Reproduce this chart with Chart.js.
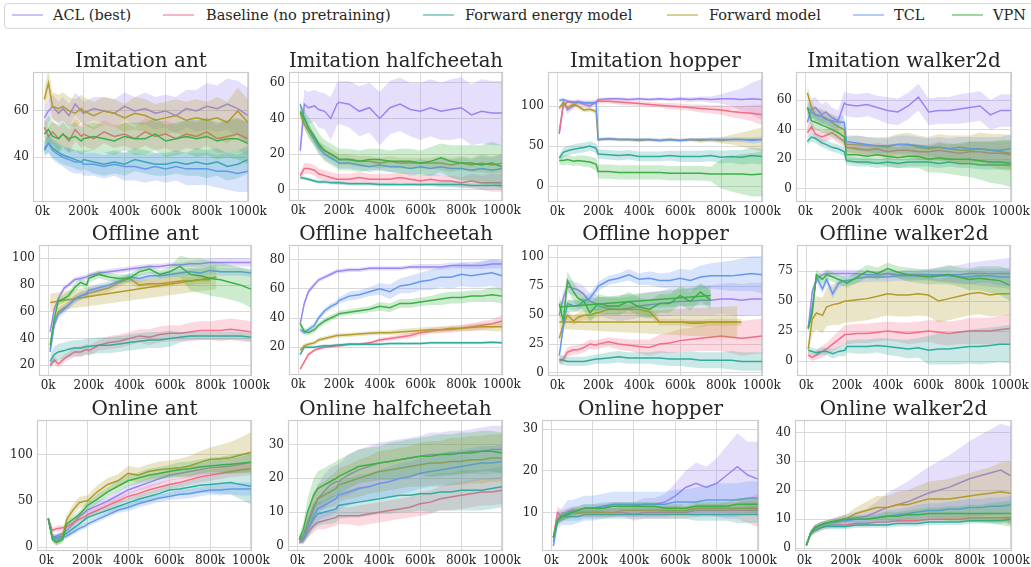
<!DOCTYPE html>
<html><head><meta charset="utf-8">
<script src="https://cdn.jsdelivr.net/npm/chart.js@4.4.1/dist/chart.umd.min.js"></script>
<style>
html,body{margin:0;padding:0;background:#fff;}
body{width:1031px;height:567px;position:relative;overflow:hidden;font-family:'DejaVu Serif',serif;}
#legendBox{position:absolute;left:4px;top:3px;width:1030px;height:26px;border:1px solid #d6d6d6;border-radius:4px;box-sizing:border-box;}
.sw{position:absolute;top:14px;height:2px;width:31px;opacity:.5}
.lt{position:absolute;top:6px;font-size:14.5px;color:#262626;line-height:18px;white-space:nowrap}
canvas{position:absolute;}
</style></head><body>
<div id="legendBox"></div>
<script>
// ---------------- DATA ----------------
const steps = [10,30,50,80,100,130,160,190,200,250,300,350,400,450,500,550,600,650,700,750,800,850,900,950,1000]; // k steps
const seriesNames = ['ACL (best)','Baseline (no pretraining)','Forward energy model','Forward model','TCL','VPN'];
const panelTitles = ['Imitation ant','Imitation halfcheetah','Imitation hopper','Imitation walker2d',
  'Offline ant','Offline halfcheetah','Offline hopper','Offline walker2d',
  'Online ant','Online halfcheetah','Online hopper','Online walker2d'];
const xTickValues = [0,200,400,600,800,1000];
const xTickLabels = ['0k','200k','400k','600k','800k','1000k'];

// Imitation ant
const imAntTicks = [40,60];
const imAntACL = [57,60,62,59,61,58,63,60,59,61,60,59,62,60,61,59,60,58,61,60,62,61,63,61,58];
const imAntACLsd = [4,5,5,5,5,5,5,5,5,5,6,6,6,6,7,7,7,8,8,9,10,10,11,12,12];
const imAntBase = [53,49,51,48,50,47,52,49,50,48,51,49,50,48,51,49,50,48,50,49,51,48,49,50,48];
const imAntBasesd = [4,4,5,5,5,5,5,5,5,5,5,5,5,5,6,6,6,6,6,6,6,6,7,7,7];
const imAntFE = [43,46,44,42,41,40,39,38,39,38,37,38,37,39,38,37,37,38,37,38,37,38,36,37,39];
const imAntFEsd = [3,4,4,4,4,4,4,4,4,5,5,5,5,5,5,5,5,5,5,6,6,6,6,6,6];
const imAntFM = [65,72,62,61,62,60,59,61,60,58,60,59,57,59,58,56,57,58,56,57,56,57,55,60,55];
const imAntFMsd = [5,6,6,6,6,6,6,6,6,6,6,6,6,7,7,7,7,7,8,8,8,9,9,10,10];
const imAntTCL = [44,46,43,41,40,39,38,38,37,37,36,37,36,36,35,36,35,36,35,35,35,34,34,33,34];
const imAntTCLsd = [3,4,4,4,4,5,5,5,5,5,5,5,6,6,6,6,6,6,7,7,7,7,8,8,9];
const imAntVPN = [50,52,49,48,50,48,49,47,48,49,48,47,49,48,48,50,47,48,49,48,49,47,48,48,46];
const imAntVPNsd = [5,6,6,6,6,6,6,6,6,6,6,6,6,7,7,7,7,7,7,8,8,8,8,9,9];

// Imitation halfcheetah
const imHcTicks = [0,20,40,60];
const imHcACL = [22,48,46,47,45,44,40,48,49,48,44,46,40,46,48,45,44,46,44,45,46,42,44,43,43];
const imHcACLsd = [6,8,9,9,10,10,12,12,12,13,14,14,15,15,15,15,16,16,16,17,17,17,18,18,18];
const imHcBase = [8,12,12,11,9,8,7,6,6,6,7,6,6,6,7,6,5,6,5,5,4,5,4,4,4];
const imHcBasesd = [2,3,3,3,3,3,3,3,3,3,3,3,3,3,3,3,3,3,3,3,3,4,4,5,5];
const imHcFE = [7,6.5,6,5,4.5,4.5,4,4,4,3.5,3.5,3.5,3,3,3,3,3,3,3,3,3,2.5,2.5,2.5,2.5];
const imHcFEsd = [1,1,1,1,1,1,1,1,1,1,1,1,1,1,1,1,1,1,1.5,1.5,1.5,1.5,2,2,2];
const imHcFM = [43,37,33,28,25,22,20,18,17,17,16,16,15,16,15,15,15,15,15,14,15,14,15,14,15];
const imHcFMsd = [3,3,3,3,3,3,3,3,3,3,3,3,3,3,3,3,3,3,4,4,4,4,5,5,5];
const imHcTCL = [48,40,35,28,24,20,18,16,15,15,14,13,14,13,13,12,13,12,13,12,12,11,12,11,12];
const imHcTCLsd = [2,3,3,3,3,3,3,3,3,3,3,3,3,3,3,4,4,4,5,5,6,6,7,7,8];
const imHcVPN = [44,40,35,30,26,22,20,18,17,17,16,17,17,16,16,16,15,16,18,16,15,15,14,15,13];
const imHcVPNsd = [4,5,6,6,6,6,6,6,6,6,6,6,6,6,7,7,7,8,8,9,10,10,11,12,12];

// Imitation hopper
const imHopTicks = [0,50,100];
const imHopACL = [65,105,95,100,105,102,100,105,108,109,109,108,109,108,109,108,109,108,109,108,109,109,108,109,108];
const imHopACLsd = [5,4,5,4,3,3,3,3,2,2,2,2,2,2,2,2,3,3,3,4,6,9,14,20,26];
const imHopBase = [68,100,105,104,105,104,104,104,106,106,105,104,103,102,101,100,99,98,97,96,95,93,92,91,89];
const imHopBasesd = [4,4,3,3,3,3,3,3,3,3,3,3,3,3,3,4,4,4,5,5,6,7,8,10,13];
const imHopFE = [35,42,44,46,47,48,50,47,40,39,38,39,37,37,37,38,37,37,37,38,36,37,36,38,37];
const imHopFEsd = [5,6,6,6,6,6,6,6,6,6,6,6,6,6,6,6,7,7,7,7,8,8,9,10,10];
const imHopFM = [97,105,98,102,100,95,96,93,58,59,58,58,57,58,57,58,57,58,57,58,57,58,58,58,58];
const imHopFMsd = [3,3,3,3,3,3,3,3,2,2,2,2,2,2,2,2,2,2,3,3,4,6,9,12,15];
const imHopTCL = [107,108,106,105,105,104,104,104,58,59,58,58,58,58,57,58,57,58,58,58,58,58,58,57,58];
const imHopTCLsd = [2,2,2,2,2,2,2,2,2,2,2,2,2,2,2,2,2,2,2,2,3,3,3,4,4];
const imHopVPN = [32,32,33,31,32,31,30,27,18,18,17,17,17,17,17,16,16,16,16,15,15,15,15,14,15];
const imHopVPNsd = [5,6,6,6,6,7,7,8,9,9,9,9,9,9,9,9,9,9,9,9,18,22,25,27,28];

// Imitation walker2d
const imWalkTicks = [0,20,40,60];
const imWalkACL = [45,54,55,50,52,48,46,58,57,56,57,55,53,52,56,62,52,53,53,54,55,56,50,53,53];
const imWalkACLsd = [6,7,7,7,7,7,7,8,8,8,8,8,9,9,9,9,9,9,9,10,10,10,10,11,11];
const imWalkBase = [38,42,37,35,36,38,35,32,28,27,26,27,25,26,26,25,25,26,25,24,25,25,24,24,23];
const imWalkBasesd = [3,4,4,4,4,4,4,4,4,4,4,4,5,5,5,5,5,6,6,6,7,7,8,8,9];
const imWalkFE = [32,35,34,31,30,28,27,25,19,18,18,17,18,17,18,18,18,17,18,17,17,16,16,16,16];
const imWalkFEsd = [3,3,3,3,3,3,3,3,3,3,3,3,3,3,3,3,3,3,3,3,3,3,3,3,3];
const imWalkFM = [65,55,50,49,48,45,42,40,30,30,29,29,28,30,30,28,27,28,27,26,26,27,26,25,24];
const imWalkFMsd = [5,5,5,5,5,5,5,5,5,6,6,6,7,7,8,8,8,9,9,10,10,11,11,12,12];
const imWalkTCL = [55,52,50,49,47,46,45,45,32,31,30,29,29,30,30,29,28,28,27,28,27,27,26,26,27];
const imWalkTCLsd = [4,4,4,4,4,4,4,4,4,5,5,5,5,6,6,6,6,7,7,7,8,8,9,9,10];
const imWalkVPN = [55,46,45,43,42,40,38,35,23,23,22,23,22,21,22,22,20,21,20,20,20,19,18,18,17];
const imWalkVPNsd = [5,5,5,5,5,5,5,5,5,6,6,6,7,7,8,8,9,10,10,11,12,13,14,15,16];

// Offline ant
const offAntTicks = [20,40,60,80,100];
const offAntACL = [45,62,70,78,80,84,85,86,87,89,90,91,92,93,94,94,95,95,96,96,97,97,97,97,97];
const offAntACLsd = [2,2,2,2,2,2,2,2,2,2,2,2,2,2,2,2,2,2,2,3,3,3,3,3,3];
const offAntBase = [20,24,21,25,27,30,30,32,31,35,37,38,40,42,41,43,44,44,45,46,46,46,47,46,45];
const offAntBasesd = [2,3,3,3,3,4,4,4,4,4,5,5,5,5,6,6,6,6,7,7,7,8,8,8,8];
const offAntFE = [23,28,30,31,32,33,33,34,34,35,35,36,37,38,39,39,40,41,42,42,42,42,42,42,41];
const offAntFEsd = [5,6,6,6,6,6,6,6,6,6,6,6,6,6,6,6,6,4,3,3,3,3,3,3,3];
const offAntFM = [32,52,60,63,65,70,72,73,74,76,78,82,85,80,81,81,82,83,83,84,84,null,null,null,null];
const offAntFMsd = [3,3,3,3,3,3,3,3,3,3,3,3,3,3,3,3,3,3,3,3,3,null,null,null,null];
const offAntFMlineX = [10,830];
const offAntFMline = [67,86];
const offAntFMlineSd = [6.5,9];
const offAntTCL = [30,50,58,62,65,69,72,74,76,78,80,83,86,85,87,87,88,89,90,89,91,90,90,90,89];
const offAntTCLsd = [2,3,3,3,3,3,3,3,3,3,3,3,3,3,3,3,3,3,3,3,3,3,3,3,3];
const offAntVPN = [35,55,68,70,72,78,82,80,85,88,86,85,85,90,92,88,90,94,88,87,85,84,82,80,77];
const offAntVPNsd = [2,3,3,3,3,3,3,3,3,3,3,3,3,3,3,3,4,8,12,13,13,13,13,13,14];

// Offline halfcheetah
const offHcTicks = [20,40,60,80];
const offHcACL = [36,50,58,63,66,68,70,72,72,73,73,74,74,74,74,75,75,75,75,76,76,76,76,77,77];
const offHcACLsd = [1.5,2,2,1.5,1.5,1.5,1.5,1.5,1.5,1.5,1.5,1.5,1.5,1.5,1.5,1.5,2,2,2,2,2,2.5,2.5,3,3];
const offHcBase = [5,10,15,18,19,20,20.5,21,21,22,22,23,25,26,27,28,30,31,32,32,33,34,35,36,38];
const offHcBasesd = [1,1,1,1,1,1,1,1,1,1,1,1,1.5,1.5,1.5,2,2,2,2,2,2,2.5,3,3,4];
const offHcFE = [15,20,20,20,20.5,21,21,21.5,21.5,22,22,22,22,22.5,22.5,22.5,22.5,23,23,23,23,23,23,23.5,23];
const offHcFEsd = [1,1,1,1,1,1,1,1,1,1,1,1,1,1,1,1,1,1,1,1,1,1,1,1,1];
const offHcFM = [18,21,22,23,25,26,27,28,28,28.5,29,29.5,30,30,30.5,31,31.5,32,32,33,33,33.5,34,34,34];
const offHcFMsd = [1.5,1.5,1.5,1.5,1.5,1.5,1.5,1.5,1.5,1.5,1.5,1.5,1.5,1.5,2,2,2,2,2,2,2,2.5,2.5,3,3];
const offHcTCL = [32,30,32,35,40,45,48,50,52,55,56,58,60,58,62,63,65,66,68,68,70,69,70,71,69];
const offHcTCLsd = [2,2,2,2,2,2,2,2,2,3,3,3,4,5,5,6,6,7,7,8,8,8,9,9,10];
const offHcVPN = [36,31,30,32,35,38,40,42,43,44,45,46,48,47,50,50,51,52,53,54,54,55,55,56,55];
const offHcVPNsd = [2,2,2,2,2,2,2,2,2,2,2,2,3,3,3,3,3,3,4,4,4,4,4,5,5];

// Offline hopper
const offHopTicks = [0,25,50,75,100];
const offHopACL = [50,65,75,73,72,68,62,60,58,56,55,56,58,59,60,61,62,62,63,63,64,64,63,64,64];
const offHopACLsd = [5,6,6,6,6,7,7,8,8,9,10,10,10,11,11,12,12,12,13,13,13,14,14,14,14];
const offHopBase = [10,12,18,20,20,22,25,24,25,27,25,24,23,22,25,26,28,29,30,31,32,31,30,31,32];
const offHopBasesd = [3,4,4,4,4,4,4,4,4,4,5,5,6,7,8,9,10,10,11,12,13,14,15,15,15];
const offHopFE = [12,11,10,10,10,10,11,12,12,13,14,13,13,13,13,12,12,12,11,11,11,11,10,10,10];
const offHopFEsd = [4,4,4,4,4,4,4,4,4,5,5,5,5,5,6,6,6,7,7,7,7,8,8,8,8];
const offHopFM = [30,42,50,45,48,50,50,52,52,55,55,55,55,53,44,44,44,43,43,44,44,44,44,null,null];
const offHopFMsd = [5,4,4,4,4,4,4,4,4,4,4,4,4,4,3,3,3,3,3,3,3,3,3,null,null];
const offHopFMlineX = [10,880];
const offHopFMline = [44,44];
const offHopFMlineSd = [6,14];
const offHopTCL = [15,40,60,58,58,62,65,72,75,80,82,85,81,82,80,80,82,80,83,84,84,84,85,86,85];
const offHopTCLsd = [3,4,4,4,4,4,4,4,4,4,4,5,5,6,6,7,8,9,10,11,12,13,14,15,16];
const offHopVPN = [60,45,80,70,65,62,52,58,60,58,58,62,57,55,60,60,67,62,70,63,null,null,null,null,null];
const offHopVPNsd = [8,8,8,8,8,8,8,8,8,8,8,8,8,8,8,8,8,8,8,8,null,null,null,null,null];
const offHopVPNlineX = [10,750];
const offHopVPNline = [57,67];
const offHopVPNlineSd = [5,8];

// Offline walker2d
const offWalkTicks = [0,25,50,75];
const offWalkACL = [27,58,68,72,73,73,73,73,73,73,72,72,73,72,72,72,72,72,72,72,73,73,73,73,73];
const offWalkACLsd = [3,3,3,3,3,3,3,3,3,3,3,3,3,3,4,4,5,6,7,8,9,10,11,12,13];
const offWalkBase = [5,3,5,8,10,14,18,22,22,23,23,24,25,24,23,24,25,24,23,24,25,25,25,26,27];
const offWalkBasesd = [3,3,4,5,5,6,7,8,8,8,8,8,8,8,9,9,9,10,10,10,11,11,11,12,12];
const offWalkFE = [9,8,7,8,8,6,8,9,12,12,12,13,12,11,10,11,9,10,10,11,12,12,13,14,14];
const offWalkFEsd = [3,3,3,3,3,4,4,5,5,6,6,6,7,7,8,8,12,13,13,14,14,15,15,15,16];
const offWalkFM = [10,35,40,38,45,47,48,50,50,51,52,54,56,55,55,56,55,50,52,54,56,57,55,56,56];
const offWalkFMsd = [5,12,14,15,16,17,18,18,18,18,18,18,18,18,18,18,18,18,18,18,18,18,18,18,18];
const offWalkTCL = [28,45,70,60,68,56,65,67,67,69,70,70,70,71,71,71,72,71,71,70,70,71,71,70,70];
const offWalkTCLsd = [4,4,4,4,4,4,4,4,4,4,4,4,4,4,4,4,4,5,5,5,6,6,6,7,8];
const offWalkVPN = [27,40,72,68,72,70,68,66,65,70,75,73,77,74,72,71,70,71,72,70,68,69,68,67,63];
const offWalkVPNsd = [3,4,4,4,4,4,4,4,4,5,5,5,5,5,6,6,6,7,8,8,9,10,11,12,13];

// Online ant
const onAntTicks = [0,50,100];
const onAntACL = [31,10,12,15,18,25,33,38,40,45,50,56,62,66,70,74,78,80,82,84,86,87,88,90,92];
const onAntACLsd = [2,3,3,3,4,4,4,4,4,5,5,5,5,5,6,6,6,6,7,7,7,8,8,8,9];
const onAntBase = [31,18,20,21,22,26,30,33,35,40,45,50,55,58,62,65,68,70,73,76,78,80,82,84,85];
const onAntBasesd = [2,3,3,3,3,3,3,4,4,4,4,4,4,5,5,5,5,5,5,6,6,6,6,7,7];
const onAntFE = [31,12,10,12,15,20,25,30,32,36,40,44,48,52,55,58,62,63,65,67,68,69,70,68,66];
const onAntFEsd = [2,3,3,3,3,4,4,4,4,4,4,5,5,5,5,5,6,6,7,8,9,11,13,16,20];
const onAntFM = [31,10,5,12,30,40,48,50,50,60,68,72,80,78,82,84,85,86,88,92,95,96,97,100,103];
const onAntFMsd = [2,4,4,5,5,6,6,6,6,7,7,7,8,8,8,9,9,10,11,12,13,15,17,19,22];
const onAntTCL = [31,10,8,10,12,16,20,23,25,30,35,40,43,47,50,53,55,57,58,60,62,62,63,63,63];
const onAntTCLsd = [2,3,3,3,3,3,3,3,3,3,3,3,4,4,4,4,4,5,5,5,5,6,6,7,7];
const onAntVPN = [31,8,5,8,25,30,35,42,45,52,60,66,72,75,78,80,82,84,85,87,88,89,90,91,92];
const onAntVPNsd = [2,3,3,4,4,4,4,5,5,5,5,6,6,6,7,7,7,8,8,8,9,9,10,11,11];

// Online halfcheetah
const onHcTicks = [0,10,20,30];
const onHcACL = [2,3,7,12,14,16,18,19,19,21,22.5,23.5,24.5,25,25.5,26,26.5,27,27,27.5,27.5,28,28,28.5,28.5];
const onHcACLsd = [1,2,3,4,4,5,5,5,5,6,6,6,6,6,6,6,6,6.5,6.5,6.5,6.5,6.5,7,7,7];
const onHcBase = [1,2,4,6,7,7.5,8,8.5,9,9,9,9.5,10,10.5,11,11.5,12.5,13,14,14.5,15,15.5,16,16,16.5];
const onHcBasesd = [0.5,1,1.5,2,2,2.5,2.5,2.5,2.5,2.5,3,3,3,3,3,3,3.5,3.5,3.5,4,4,4,4,4,4];
const onHcFE = [2,2,5,8,9.5,10,10.5,11,12,12.5,13,13.5,14,14.5,15,15,15.5,15.5,16,16,16.5,16.5,16.5,17,17.5];
const onHcFEsd = [1,1.5,2.5,3,3.5,3.5,4,4,4,4,4.5,4.5,4.5,5,5,5,5,5.5,5.5,5.5,6,6,6,6,6];
const onHcFM = [2,3,6,11,14,15,16,17,18,19,20,21,22,22.5,23,23.5,24,24.5,24.5,25,25,25.5,25.5,26,26];
const onHcFMsd = [1,2,3,4,4,4,4.5,5,5,5,5.5,5.5,6,6,6,6,6.5,6.5,6.5,7,7,7,7,7,7];
const onHcTCL = [2,2.5,5,9,11,12,13,14,15,16,17,17.5,18.5,19,20,20.5,21.5,22,22.5,23,23.5,24,24.5,24.5,25];
const onHcTCLsd = [1,1.5,2.5,3,3.5,3.5,4,4,4,4,4,4,4,4.5,4.5,4.5,4.5,4.5,5,5,5,5,5,5,5];
const onHcVPN = [2,5,10,15,17,18,19,20,20.5,22,23.5,24,24.5,25,25.5,26,26.5,26.5,27,27,27.5,27.5,28,28,27.5];
const onHcVPNsd = [1,2,4,5,5,5,5,5,5,5,5,5,5,5.5,5.5,5.5,5.5,6,6,6,6,6,6,6,6];

// Online hopper
const onHopTicks = [10,20,30];
const onHopACL = [3,8,9,10,10.5,10.5,11,11,11,11.5,11.5,11.5,11.5,12,12,12.5,14,16,17,16,17,19,21,19,18];
const onHopACLsd = [1,1,1,1,1,1,1,1,1,1,1,1,1,1.5,1.5,2,3,4,5,5,6,7,8,8,9];
const onHopBase = [4,10,9,10,10,10,10,10,10,10,10,10,9.5,10,10,10,10,10,10.5,10.5,10.5,10.5,10.5,10.5,10.5];
const onHopBasesd = [1,1.5,1.5,1,1,1,1,1,1,1,1,1,1.5,1.5,1.5,1.5,1.5,1.5,1.5,1.5,1.5,2,2,3,4];
const onHopFE = [4,8,9,9,9,9,9.5,9.5,9.5,9.5,9.5,9.5,9.5,9.5,9.5,9.5,9.5,9.5,9.5,9.5,9.5,9.5,9.5,9.5,9.5];
const onHopFEsd = [1,1,1,1,1,1,1,1,1,1,1,1,1,1,1,1,1,1,1.5,1.5,1.5,1.5,2,2,2];
const onHopFM = [4,8,9,9.5,10,10,10,10,10,10,10,10.5,10.5,10.5,10.5,10.5,10.5,10.5,11,11,11,11,11,11,11];
const onHopFMsd = [1,1,1,1,1,1,1,1,1,1,1,1,1,1,1,1,1,1,1,1,1,1,1.5,1.5,1.5];
const onHopTCL = [2,8,9,10,10,10.5,11,11,11,11.5,12,12,12,12,12,12,12.5,12.5,12.5,13,13,13,13,13.5,13.5];
const onHopTCLsd = [1,2,2,3,3,3,3,3,3,3,3,3,3,3,3,3,3,3,3.5,3.5,4,4,4,4,4];
const onHopVPN = [4,8,9,9.5,10,10.5,11,11,11,11,11.5,11.5,11.5,11.5,11.5,11,11,11,11.5,11.5,11.5,11.5,12,12,12];
const onHopVPNsd = [1,1,1,1,1,1,1,1,1,1,1,1,1,1,1,1,1,1,1,1,1,1,1.5,1.5,1.5];

// Online walker2d
const onWalkTicks = [0,10,20,30,40];
const onWalkACL = [1,5,7,8,8.5,9,9.5,10,10,10.5,11,12.5,14,15,16,17.5,19,20,21,22.5,24,25,26,27,25];
const onWalkACLsd = [0.5,1,1,1,1,1,1.5,1.5,1.5,2,2.5,3.5,5,6,7,8,9,10,11,12,13,14,15,16,17];
const onWalkBase = [1,5,6,7,7.5,8,8,8,8,8.5,8.5,9,9,9.5,9.5,9.5,10,10,10,10,10.5,10.5,10.5,10.5,10.5];
const onWalkBasesd = [0.5,1,1,1,1,1,1,1,1,1,1,1,1,1,1,1,1,1,1,1,1,1,1,1,1];
const onWalkFE = [1,5,6,7,7.5,7.5,7.5,7.5,7.5,8,8,8,8,8.5,8.5,8.5,9,9,9,9,9.5,9.5,9.5,9.5,10];
const onWalkFEsd = [0.5,1,1,1,1,1,1,1,1,1,1,1,1,1,1,1,1,1,1,1,1,1,1,1,1];
const onWalkFM = [1,5,7,8,8.5,9,9.5,10,10,12,13,14,14,15,15,16,17,17,17,17.5,18,18.5,19,19.5,19];
const onWalkFMsd = [0.5,1,1,1,1,1,1,1.5,1.5,2,3,4,4,4.5,5,5.5,6,6.5,7,7.5,8,8.5,9,10,11];
const onWalkTCL = [1,5,7,8,8.5,9,9,9.5,9.5,10,10,10.5,11,11.5,12,12.5,13,13,13.5,13.5,14,14,14.5,14.5,15];
const onWalkTCLsd = [0.5,1,1,1,1,1,1,1,1,1.5,1.5,1.5,2,2,2,2.5,2.5,2.5,2.5,3,3,3,3,3,3];
const onWalkVPN = [1,5,7,8,8.5,9,9.5,10,10,10,10,10.5,11,11,11.5,11.5,12,12,12,12,12,12,12,12,12];
const onWalkVPNsd = [0.5,1,1,1,1,1,1,1,1,1,1,1,1.5,1.5,1.5,2,2,2,2.5,2.5,3,3,3.5,4,4.5];

// ---------------- STYLE / LAYOUT ----------------
const seriesColors = ['#9b84f4','#f46c86','#31aa9f','#b39a2c','#6598ef','#3bb045'];
const panelBox = [
  {p0:42.3,p1:248.3,T:72,B:201.5,ymin:20.7,ymax:76.8},
  {p0:297.7,p1:501.7,T:72,B:201,ymin:-6.2,ymax:66},
  {p0:557.5,p1:761.7,T:72,B:201.5,ymin:-20,ymax:142.5},
  {p0:805,p1:1010.7,T:72,B:202,ymin:-9,ymax:79},
  {p0:48.3,p1:250.7,T:245,B:375.5,ymin:12,ymax:110},
  {p0:297.7,p1:502,T:245,B:375,ymin:1,ymax:90},
  {p0:557,p1:761.7,T:244.5,B:375.5,ymin:-2.6,ymax:110.7},
  {p0:806,p1:1010,T:245,B:375.5,ymin:-12.5,ymax:96.7},
  {p0:46,p1:250.7,T:419.5,B:550.5,ymin:-4.3,ymax:138},
  {p0:297.7,p1:502.3,T:420,B:550.5,ymin:-1.4,ymax:37.2},
  {p0:551.7,p1:757.7,T:420,B:550.5,ymin:0.75,ymax:32.2},
  {p0:804.3,p1:1011,T:420,B:550.5,ymin:-1,ymax:44.3}
];
const legendPos = [[12,53],[163,206],[423,465],[667,709],[853,894],[952,993]];

// ---------------- BUILD ----------------
const panels = [
  {ticks:imAntTicks, m:[imAntACL,imAntBase,imAntFE,imAntFM,imAntTCL,imAntVPN], s:[imAntACLsd,imAntBasesd,imAntFEsd,imAntFMsd,imAntTCLsd,imAntVPNsd], extra:[]},
  {ticks:imHcTicks, m:[imHcACL,imHcBase,imHcFE,imHcFM,imHcTCL,imHcVPN], s:[imHcACLsd,imHcBasesd,imHcFEsd,imHcFMsd,imHcTCLsd,imHcVPNsd], extra:[]},
  {ticks:imHopTicks, m:[imHopACL,imHopBase,imHopFE,imHopFM,imHopTCL,imHopVPN], s:[imHopACLsd,imHopBasesd,imHopFEsd,imHopFMsd,imHopTCLsd,imHopVPNsd], extra:[]},
  {ticks:imWalkTicks, m:[imWalkACL,imWalkBase,imWalkFE,imWalkFM,imWalkTCL,imWalkVPN], s:[imWalkACLsd,imWalkBasesd,imWalkFEsd,imWalkFMsd,imWalkTCLsd,imWalkVPNsd], extra:[]},
  {ticks:offAntTicks, m:[offAntACL,offAntBase,offAntFE,offAntFM,offAntTCL,offAntVPN], s:[offAntACLsd,offAntBasesd,offAntFEsd,offAntFMsd,offAntTCLsd,offAntVPNsd], extra:[{si:3,x:offAntFMlineX,m:offAntFMline,s:offAntFMlineSd}]},
  {ticks:offHcTicks, m:[offHcACL,offHcBase,offHcFE,offHcFM,offHcTCL,offHcVPN], s:[offHcACLsd,offHcBasesd,offHcFEsd,offHcFMsd,offHcTCLsd,offHcVPNsd], extra:[]},
  {ticks:offHopTicks, m:[offHopACL,offHopBase,offHopFE,offHopFM,offHopTCL,offHopVPN], s:[offHopACLsd,offHopBasesd,offHopFEsd,offHopFMsd,offHopTCLsd,offHopVPNsd], extra:[{si:3,x:offHopFMlineX,m:offHopFMline,s:offHopFMlineSd},{si:5,x:offHopVPNlineX,m:offHopVPNline,s:offHopVPNlineSd}]},
  {ticks:offWalkTicks, m:[offWalkACL,offWalkBase,offWalkFE,offWalkFM,offWalkTCL,offWalkVPN], s:[offWalkACLsd,offWalkBasesd,offWalkFEsd,offWalkFMsd,offWalkTCLsd,offWalkVPNsd], extra:[]},
  {ticks:onAntTicks, m:[onAntACL,onAntBase,onAntFE,onAntFM,onAntTCL,onAntVPN], s:[onAntACLsd,onAntBasesd,onAntFEsd,onAntFMsd,onAntTCLsd,onAntVPNsd], extra:[]},
  {ticks:onHcTicks, m:[onHcACL,onHcBase,onHcFE,onHcFM,onHcTCL,onHcVPN], s:[onHcACLsd,onHcBasesd,onHcFEsd,onHcFMsd,onHcTCLsd,onHcVPNsd], extra:[]},
  {ticks:onHopTicks, m:[onHopACL,onHopBase,onHopFE,onHopFM,onHopTCL,onHopVPN], s:[onHopACLsd,onHopBasesd,onHopFEsd,onHopFMsd,onHopTCLsd,onHopVPNsd], extra:[]},
  {ticks:onWalkTicks, m:[onWalkACL,onWalkBase,onWalkFE,onWalkFM,onWalkTCL,onWalkVPN], s:[onWalkACLsd,onWalkBasesd,onWalkFEsd,onWalkFMsd,onWalkTCLsd,onWalkVPNsd], extra:[]}
];

function rgba(hex,a){const n=parseInt(hex.slice(1),16);return `rgba(${n>>16&255},${n>>8&255},${n&255},${a})`;}
function pts(xs,vals,off,sign){const out=[];xs.forEach((x,i)=>{if(vals[i]!=null)out.push({x:x,y:vals[i]+(off?sign*off[i]:0)});});return out;}
function addSeries(ds,si,xs,m,s){
  const c=seriesColors[si], base=(5-si)*3;
  ds.push({data:pts(xs,m,s,-1),borderWidth:0,pointRadius:0,fill:false,order:base+2,borderColor:'transparent'});
  ds.push({data:pts(xs,m,s,1),borderWidth:0,pointRadius:0,fill:'-1',backgroundColor:rgba(c,0.26),order:base+1,borderColor:'transparent'});
  ds.push({data:pts(xs,m,null,0),borderColor:c,borderWidth:1.5,pointRadius:0,fill:false,order:base});
}
const framePlugin={id:'frame',afterDatasetsDraw(chart){const a=chart.chartArea,ctx=chart.ctx;ctx.save();ctx.strokeStyle='#cccccc';ctx.lineWidth=1.2;ctx.strokeRect(a.left+0.5,a.top+0.5,a.right-a.left-1,a.bottom-a.top-1);ctx.restore();}};

// legend (HTML text)
seriesNames.forEach((name,i)=>{
  const sw=document.createElement('div');sw.className='sw';sw.style.left=legendPos[i][0]+'px';sw.style.background=seriesColors[i];document.body.appendChild(sw);
  const t=document.createElement('div');t.className='lt';t.style.left=legendPos[i][1]+'px';t.textContent=name;document.body.appendChild(t);
});

panels.forEach((p,k)=>{
  const b=panelBox[k];
  const sc=(b.p1-b.p0)/1000;
  const L=Math.round(b.p0-45*sc), R=Math.round(b.p1+5*sc), T=Math.round(b.T), B=Math.round(b.B);
  const YW=40, TH=38, XH=24, PR=26;
  const cv=document.createElement('canvas');
  const w=R-L+YW+PR, h=B-T+TH+XH;
  cv.width=w;cv.height=h;cv.style.width=w+'px';cv.style.height=h+'px';
  cv.style.left=(L-YW)+'px';cv.style.top=(T-TH)+'px';
  document.body.appendChild(cv);
  const ds=[];
  for(let si=0;si<6;si++){
    addSeries(ds,si,steps,p.m[si],p.s[si]);
    p.extra.filter(e=>e.si===si).forEach(e=>addSeries(ds,si,e.x,e.m,e.s));
  }
  const tickFont={family:'DejaVu Serif',size:12};
  new Chart(cv,{
    type:'line',
    data:{datasets:ds},
    options:{
      responsive:false,animation:false,devicePixelRatio:1,maintainAspectRatio:false,
      layout:{padding:{left:0,right:PR,top:0,bottom:0}},
      elements:{line:{tension:0}},
      plugins:{legend:{display:false},tooltip:{enabled:false},
        title:{display:true,text:panelTitles[k],fullSize:false,color:'#262626',
          font:{family:'DejaVu Serif',size:20,weight:'normal',lineHeight:1.0},padding:{top:18,bottom:0}}},
      scales:{
        x:{type:'linear',min:-45,max:1005,
          afterBuildTicks:s=>{s.ticks=xTickValues.map(v=>({value:v}));},
          afterFit:s=>{s.height=XH;s.paddingLeft=0;s.paddingRight=0;},
          ticks:{autoSkip:false,maxRotation:0,padding:3,color:'#262626',font:tickFont,
            callback:v=>xTickLabels[xTickValues.indexOf(v)]},
          grid:{color:'#d9d9d9',lineWidth:1,drawTicks:false},border:{display:false}},
        y:{type:'linear',min:b.ymin,max:b.ymax,
          afterBuildTicks:s=>{s.ticks=p.ticks.map(v=>({value:v}));},
          afterFit:s=>{s.width=YW;s.paddingTop=0;s.paddingBottom=0;},
          ticks:{autoSkip:false,padding:4,color:'#262626',font:tickFont,callback:v=>String(v)},
          grid:{color:'#d9d9d9',lineWidth:1,drawTicks:false},border:{display:false}}
      }
    },
    plugins:[framePlugin]
  });
});
</script></body></html>
